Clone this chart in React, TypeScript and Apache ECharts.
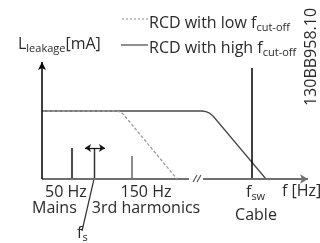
import React, { useEffect, useRef } from "react";
import * as echarts from "echarts";

// Schematic values (x: frequency position, y: leakage level), in chart units
const solidCurve = [[0, 68], [160, 68], [164, 67.3], [168, 65.6], [171, 63], [224, 0]];
const dashedCurve = [[0, 68], [75, 68], [78, 67.2], [81, 65.2], [84, 61.5], [135, 0]];
const mainsLine = [[30, 0], [30, 31]];
const fsLine = [[52.5, 0], [52.5, 31]];
const harmonicLine = [[90, 0], [90, 23]];
const fswLine = [[210, 0], [210, 111]];
const fsRange = [[43, 31], [63, 31]];
const fsPointer = [[52, 0], [40, -52]];
const xAxisLeft = [[0, 0], [147, 0]];
const xAxisRight = [[161, 0], [266, 0]];
const yAxisLine = [[0, 0], [0, 117]];
const breakMarkA = [[151, -3], [155, 4]];
const breakMarkB = [[155, -3], [159, 4]];

const FONT = "'Open Sans', 'Noto Sans', sans-serif";
const TXT = "#2a2a2a";

export default function App() {
  const ref = useRef<HTMLDivElement>(null);
  useEffect(() => {
    if (!ref.current) return;
    const chart = echarts.init(ref.current, null, { renderer: "svg" });
    const seg = (data: number[][], color: string, width: number, extra: any = {}) => ({
      type: "line",
      data,
      symbol: "none",
      silent: true,
      clip: false,
      lineStyle: { color, width, ...(extra.lineStyle || {}) },
      z: extra.z ?? 2,
    });
    const arrowLine = (data: number[][], color: string, width: number, symbols: string[], size: number[]) => ({
      type: "line",
      data: [],
      silent: true,
      clip: false,
      markLine: {
        silent: true,
        symbol: symbols,
        symbolSize: size,
        label: { show: false },
        emphasis: { disabled: true },
        lineStyle: { color, width, type: "solid" },
        data: [[{ coord: data[0] }, { coord: data[1] }]],
      },
    });
    const txt = (text: string, x: number, y: number, align = "left", extra: any = {}, lh = 16, fs = 16) => ({
      type: "text",
      x,
      y,
      silent: true,
      ...extra,
      style: {
        text,
        fill: TXT,
        fontSize: fs,
        fontFamily: FONT,
        lineHeight: lh,
        align,
        textAlign: align,
        verticalAlign: "middle",
        textVerticalAlign: "middle",
        rich: {
          s: { fontSize: 11, fontFamily: FONT, fill: TXT, verticalAlign: "bottom", lineHeight: 12 },
          m: { fontSize: fs, fontFamily: FONT, fill: TXT, lineHeight: lh },
          a: { fontSize: fs, fontFamily: FONT, fill: TXT, lineHeight: lh, padding: [0, 0, 0, 13] },
        },
      },
    });
    chart.setOption({
      animation: false,
      grid: { left: 42, top: 62, width: 266, height: 117 },
      xAxis: { type: "value", min: 0, max: 266, show: false },
      yAxis: { type: "value", min: 0, max: 117, show: false },
      series: [
        seg(solidCurve, "#4a4a4a", 1.3, { z: 2 }),
        seg(dashedCurve, "#9a9a9a", 1.3, { z: 3, lineStyle: { type: [3, 2] } }),
        seg(mainsLine, "#111", 1.5),
        seg(fsLine, "#333", 1.5),
        seg(harmonicLine, "#666", 1.5),
        seg(fswLine, "#000", 1.5),
        seg(fsPointer, "#333", 1.2),
        seg(xAxisLeft, "#707070", 2),
        seg(breakMarkA, "#555", 1.2),
        seg(breakMarkB, "#555", 1.2),
        arrowLine(xAxisRight, "#707070", 2, ["none", "arrow"], [7, 8]),
        arrowLine(yAxisLine, "#000", 1.5, ["none", "arrow"], [6, 8]),
        arrowLine(fsRange, "#111", 1.2, ["arrow", "arrow"], [6, 6]),
      ],
      graphic: [
        { type: "line", shape: { x1: 122, y1: 19, x2: 148, y2: 19 }, style: { stroke: "#888", lineWidth: 1.2, lineDash: [2, 2] } },
        { type: "line", shape: { x1: 121, y1: 45, x2: 148, y2: 45 }, style: { stroke: "#444", lineWidth: 1.2 } },
        txt("{m|RCD with low f}{s|cut-off}", 149, 22, "left", {}, 20),
        txt("{m|RCD with high f}{s|cut-off}", 149, 47, "left", {}, 20),
        txt("{m|L}{s|leakage}{m|[mA]}", 18, 43, "left", {}, 20),
        txt("{a|50 Hz}\n{m|Mains}", 32, 199, "left", {}, 16, 16),
        txt("150 Hz\n3rd harmonics", 146, 199, "center", {}, 16, 16),
        txt("{m|f}{s|s}", 77, 232, "left", {}, 20),
        txt("{m|f}{s|sw}", 246, 191, "left", {}, 20),
        txt("f [Hz]", 282, 190),
        txt("Cable", 256, 214, "center"),
        txt("130BB958.10", 310, 57, "center", { rotation: Math.PI / 2 }, 15),
      ],
    });
    return () => chart.dispose();
  }, []);
  return <div ref={ref} style={{ position: "fixed", left: 0, top: 0, width: 320, height: 243 }} />;
}
